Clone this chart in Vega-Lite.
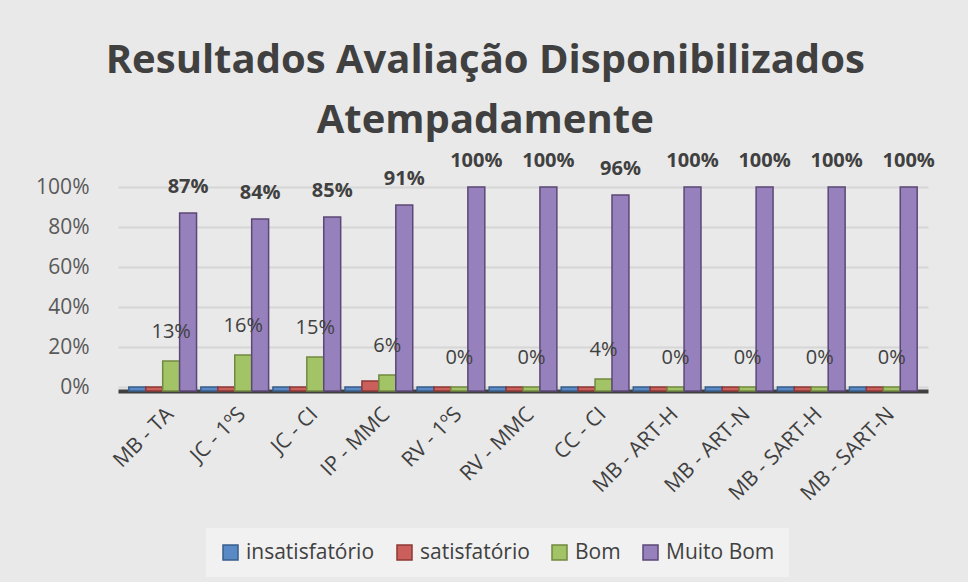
{
  "$schema": "https://vega.github.io/schema/vega-lite/v6.json",
  "width": 810,
  "height": 204,
  "autosize": {"type": "none"},
  "padding": {"left": 118, "top": 187, "right": 40, "bottom": 191},
  "background": "#e9e9e9",
  "config": {
    "font": "Open Sans",
    "view": {"stroke": null}
  },
  "title": {
    "text": ["Resultados Avaliação Disponibilizados", "Atempadamente"],
    "fontSize": 40,
    "fontWeight": "bold",
    "color": "#404040",
    "font": "Open Sans",
    "lineHeight": 60,
    "anchor": "middle",
    "frame": "bounds",
    "offset": 10
  },
  "data": {
    "values": [
      {"cat": "MB - TA", "series": "insatisfatório", "value": 0},
      {"cat": "MB - TA", "series": "satisfatório", "value": 0},
      {"cat": "MB - TA", "series": "Bom", "value": 0.13},
      {"cat": "MB - TA", "series": "Muito Bom", "value": 0.87},
      {"cat": "JC - 1ºS", "series": "insatisfatório", "value": 0},
      {"cat": "JC - 1ºS", "series": "satisfatório", "value": 0},
      {"cat": "JC - 1ºS", "series": "Bom", "value": 0.16},
      {"cat": "JC - 1ºS", "series": "Muito Bom", "value": 0.84},
      {"cat": "JC - CI", "series": "insatisfatório", "value": 0},
      {"cat": "JC - CI", "series": "satisfatório", "value": 0},
      {"cat": "JC - CI", "series": "Bom", "value": 0.15},
      {"cat": "JC - CI", "series": "Muito Bom", "value": 0.85},
      {"cat": "IP - MMC", "series": "insatisfatório", "value": 0},
      {"cat": "IP - MMC", "series": "satisfatório", "value": 0.03},
      {"cat": "IP - MMC", "series": "Bom", "value": 0.06},
      {"cat": "IP - MMC", "series": "Muito Bom", "value": 0.91},
      {"cat": "RV - 1ºS", "series": "insatisfatório", "value": 0},
      {"cat": "RV - 1ºS", "series": "satisfatório", "value": 0},
      {"cat": "RV - 1ºS", "series": "Bom", "value": 0},
      {"cat": "RV - 1ºS", "series": "Muito Bom", "value": 1},
      {"cat": "RV - MMC", "series": "insatisfatório", "value": 0},
      {"cat": "RV - MMC", "series": "satisfatório", "value": 0},
      {"cat": "RV - MMC", "series": "Bom", "value": 0},
      {"cat": "RV - MMC", "series": "Muito Bom", "value": 1},
      {"cat": "CC - CI", "series": "insatisfatório", "value": 0},
      {"cat": "CC - CI", "series": "satisfatório", "value": 0},
      {"cat": "CC - CI", "series": "Bom", "value": 0.04},
      {"cat": "CC - CI", "series": "Muito Bom", "value": 0.96},
      {"cat": "MB - ART-H", "series": "insatisfatório", "value": 0},
      {"cat": "MB - ART-H", "series": "satisfatório", "value": 0},
      {"cat": "MB - ART-H", "series": "Bom", "value": 0},
      {"cat": "MB - ART-H", "series": "Muito Bom", "value": 1},
      {"cat": "MB - ART-N", "series": "insatisfatório", "value": 0},
      {"cat": "MB - ART-N", "series": "satisfatório", "value": 0},
      {"cat": "MB - ART-N", "series": "Bom", "value": 0},
      {"cat": "MB - ART-N", "series": "Muito Bom", "value": 1},
      {"cat": "MB - SART-H", "series": "insatisfatório", "value": 0},
      {"cat": "MB - SART-H", "series": "satisfatório", "value": 0},
      {"cat": "MB - SART-H", "series": "Bom", "value": 0},
      {"cat": "MB - SART-H", "series": "Muito Bom", "value": 1},
      {"cat": "MB - SART-N", "series": "insatisfatório", "value": 0},
      {"cat": "MB - SART-N", "series": "satisfatório", "value": 0},
      {"cat": "MB - SART-N", "series": "Bom", "value": 0},
      {"cat": "MB - SART-N", "series": "Muito Bom", "value": 1}
    ]
  },
  "encoding": {
    "x": {
      "field": "cat",
      "type": "nominal",
      "sort": null,
      "scale": {"paddingInner": 0.06, "paddingOuter": 0.15},
      "axis": {
        "title": null,
        "labelAngle": -45,
        "labelFontSize": 21,
        "labelColor": "#404040",
        "labelPadding": 12,
        "ticks": false,
        "domainColor": "#404040",
        "domainWidth": 4,
        "grid": false
      }
    },
    "xOffset": {
      "field": "series",
      "type": "nominal",
      "sort": ["insatisfatório", "satisfatório", "Bom", "Muito Bom"],
      "scale": {"paddingInner": 0}
    }
  },
  "layer": [
    {
      "mark": {"type": "bar", "strokeWidth": 1.5},
      "encoding": {
        "y": {
          "field": "value",
          "type": "quantitative",
          "scale": {"domain": [-0.02, 1], "nice": false, "zero": false},
          "axis": {
            "title": null,
            "values": [0, 0.2, 0.4, 0.6, 0.8, 1],
            "format": ".0%",
            "labelFontSize": 21,
            "labelColor": "#595959",
            "labelPadding": 29,
            "domain": false,
            "ticks": false,
            "gridColor": "#d6d6d6",
            "gridWidth": 2
          }
        },
        "y2": {"datum": -0.02},
        "color": {
          "field": "series",
          "type": "nominal",
          "sort": ["insatisfatório", "satisfatório", "Bom", "Muito Bom"],
          "scale": {
            "domain": ["insatisfatório", "satisfatório", "Bom", "Muito Bom"],
            "range": ["#5A8AC6", "#CB5F5B", "#A3C466", "#9681BD"]
          },
          "legend": {
            "title": null,
            "orient": "none",
            "legendX": 88,
            "legendY": 341,
            "direction": "horizontal",
            "symbolType": "square",
            "symbolSize": 225,
            "symbolStrokeWidth": 1.5,
            "labelFontSize": 21,
            "labelColor": "#404040",
            "labelOffset": 5,
            "columnPadding": 19,
            "padding": 14,
            "fillColor": "#f1f1f1"
          }
        },
        "stroke": {
          "field": "series",
          "type": "nominal",
          "sort": ["insatisfatório", "satisfatório", "Bom", "Muito Bom"],
          "scale": {
            "domain": ["insatisfatório", "satisfatório", "Bom", "Muito Bom"],
            "range": ["#385D8A", "#8C3836", "#71893F", "#5C4776"]
          },
          "legend": {
            "title": null,
            "orient": "none",
            "legendX": 88,
            "legendY": 341,
            "direction": "horizontal",
            "symbolType": "square",
            "symbolSize": 225,
            "symbolStrokeWidth": 1.5,
            "labelFontSize": 21,
            "labelColor": "#404040",
            "labelOffset": 5,
            "columnPadding": 19,
            "padding": 14,
            "fillColor": "#f1f1f1"
          }
        }
      }
    },
    {
      "transform": [{"filter": "datum.series === 'Muito Bom'"}],
      "mark": {"type": "text", "fontWeight": "bold", "fontSize": 20, "color": "#404040", "baseline": "middle", "dy": -26},
      "encoding": {
        "y": {"field": "value", "type": "quantitative"},
        "text": {"field": "value", "type": "quantitative", "format": ".0%"}
      }
    },
    {
      "transform": [{"filter": "datum.series === 'Bom'"}],
      "mark": {"type": "text", "fontSize": 20, "color": "#404040", "baseline": "middle", "dy": -29},
      "encoding": {
        "y": {"field": "value", "type": "quantitative"},
        "text": {"field": "value", "type": "quantitative", "format": ".0%"}
      }
    }
  ]
}
